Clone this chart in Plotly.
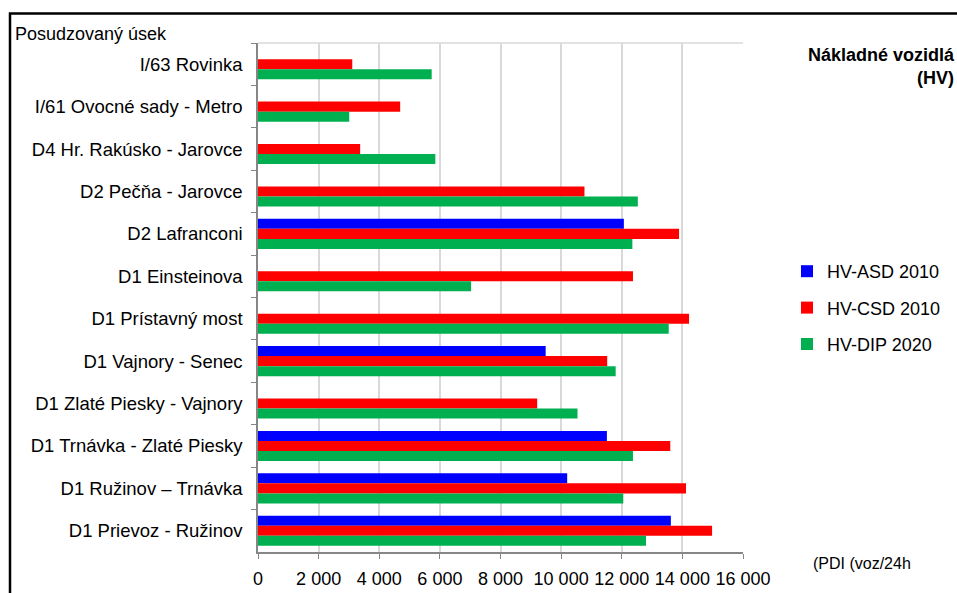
import plotly.graph_objects as go

# Road sections (top to bottom)
sections = [
    "I/63 Rovinka",
    "I/61 Ovocné sady - Metro",
    "D4 Hr. Rakúsko - Jarovce",
    "D2 Pečňa - Jarovce",
    "D2 Lafranconi",
    "D1 Einsteinova",
    "D1 Prístavný most",
    "D1 Vajnory - Senec",
    "D1 Zlaté Piesky - Vajnory",
    "D1 Trnávka - Zlaté Piesky",
    "D1 Ružinov – Trnávka",
    "D1 Prievoz - Ružinov",
]

# Heavy vehicles per 24 h
hv_asd_2010 = [None, None, None, None, 12070, None, None, 9490, None, 11510, 10200, 13620]
hv_csd_2010 = [3110, 4690, 3370, 10770, 13890, 12370, 14220, 11520, 9210, 13600, 14120, 14980]
hv_dip_2020 = [5730, 3010, 5850, 12530, 12350, 7030, 13550, 11800, 10540, 12370, 12050, 12800]

series_names = ["HV-ASD 2010", "HV-CSD 2010", "HV-DIP 2020"]
series_values = [hv_asd_2010, hv_csd_2010, hv_dip_2020]
series_colors = ["#0000FF", "#FF0000", "#00B050"]

x_tickvals = [0, 2000, 4000, 6000, 8000, 10000, 12000, 14000, 16000]
x_ticktext = ["0", "2 000", "4 000", "6 000", "8 000", "10 000", "12 000", "14 000", "16 000"]

FONT = "Liberation Sans, Arial, sans-serif"
W, H = 957, 593
L, R, T, B = 258, 214, 43, 41
PW, PH = W - L - R, H - T - B


def px_x(px):
    return (px - L) / PW


def px_y(py):
    return (H - B - py) / PH


fig = go.Figure()
for name, vals, col in zip(series_names, series_values, series_colors):
    fig.add_trace(go.Bar(
        y=sections, x=vals, name=name, orientation="h",
        marker=dict(color=col, line=dict(width=0)),
        legendgroup=name,
    ))

fig.update_layout(
    width=W, height=H,
    margin=dict(l=L, r=R, t=T, b=B, autoexpand=False),
    paper_bgcolor="white", plot_bgcolor="white",
    font=dict(family=FONT, size=18, color="black"),
    barmode="group", bargap=0.29, bargroupgap=0,
    showlegend=True,
    legend=dict(
        x=px_x(787), xanchor="left",
        y=px_y(253), yanchor="top",
        traceorder="grouped", tracegroupgap=10,
        font=dict(size=18), bgcolor="rgba(0,0,0,0)",
    ),
    xaxis=dict(
        range=[0, 16000], tickvals=x_tickvals, ticktext=x_ticktext,
        showgrid=True, gridcolor="#d9d9d9", gridwidth=1.5,
        showline=True, linecolor="#868686", linewidth=1.5,
        ticks="outside", ticklen=5, tickcolor="#868686",
        ticklabelstandoff=5, automargin=False,
        zeroline=False, fixedrange=True,
    ),
    yaxis=dict(
        autorange="reversed", type="category",
        showgrid=False,
        showline=True, linecolor="#868686", linewidth=1.5,
        ticks="outside", ticklen=5, tickcolor="#868686",
        tickson="boundaries", ticklabelstandoff=10, automargin=False,
        tickfont=dict(size=18.5),
        fixedrange=True,
    ),
    shapes=[
        # light border along the top of the plotting area
        dict(type="line", xref="paper", yref="paper", x0=0, x1=1, y0=1, y1=1,
             line=dict(color="#d9d9d9", width=1.5)),
        # outer frame
        dict(type="rect", xref="paper", yref="paper",
             x0=px_x(10), x1=px_x(980), y0=px_y(620), y1=px_y(13.5),
             line=dict(color="black", width=2.5), layer="above"),
    ],
    annotations=[
        dict(text="Posudzovaný úsek", xref="paper", yref="paper",
             x=px_x(13), y=px_y(34), xanchor="left", yanchor="middle",
             showarrow=False, font=dict(size=18)),
        dict(text="<b>Nákladné vozidlá</b><br><b>(HV)</b>", xref="paper", yref="paper",
             x=px_x(957), y=px_y(43), xanchor="right", yanchor="top", align="right",
             showarrow=False, font=dict(size=18)),
        dict(text="(PDI (voz/24h", xref="paper", yref="paper",
             x=px_x(811), y=px_y(563), xanchor="left", yanchor="middle",
             showarrow=False, font=dict(size=16)),
    ],
)

fig.write_html("out.html", config={"displayModeBar": False})
